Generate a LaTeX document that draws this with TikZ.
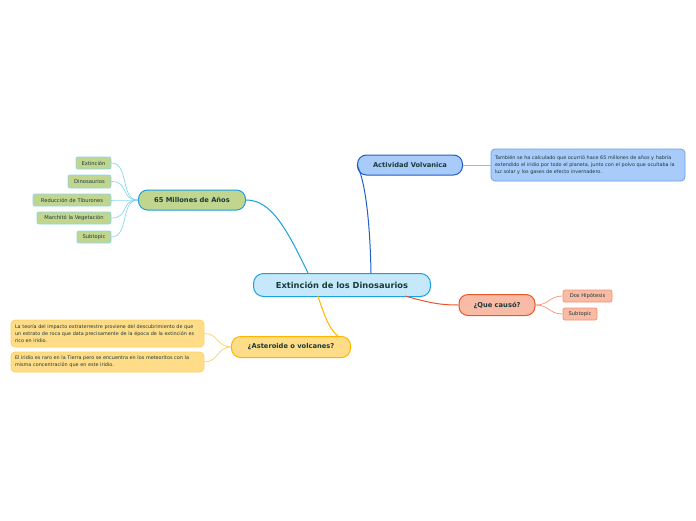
\documentclass[tikz,border=0pt]{standalone}
\usepackage{fontspec}
\setmainfont{DejaVu Sans}
\definecolor{ctrfill}{HTML}{C5E9FB}
\definecolor{ctrline}{HTML}{1AA0E0}
\definecolor{olive}{HTML}{C2D58F}
\definecolor{skyline}{HTML}{8AD6F2}
\definecolor{bluefill}{HTML}{A8CBFA}
\definecolor{blueline}{HTML}{1F5FC8}
\definecolor{bluesoft}{HTML}{6B9BE8}
\definecolor{salmon}{HTML}{F9BBA6}
\definecolor{redline}{HTML}{E8562A}
\definecolor{redsoft}{HTML}{F3936F}
\definecolor{gold}{HTML}{FFDD88}
\definecolor{goldline}{HTML}{FFB400}
\definecolor{goldsoft}{HTML}{FFD060}
\definecolor{ink}{HTML}{1A3A3A}
\tikzset{every picture/.style={line width=1pt},
  topic/.style={rounded corners=9pt, inner sep=0pt, align=center, text=ink, font=\bfseries\fontsize{6.7}{8}\selectfont},
  leaf/.style={rounded corners=2pt, inner sep=0pt, line width=0.7pt, align=center, text=ink, font=\fontsize{5.2}{6.4}\selectfont},
  memo/.style={rounded corners=4pt, inner sep=4pt, line width=0.7pt, align=left, text=ink, anchor=center, font=\fontsize{4.9}{7}\selectfont},
}
\begin{document}
\begin{tikzpicture}[x=1pt,y=1pt,yscale=-1,xscale=1]
\useasboundingbox (0,0) rectangle (696,520);

% central topic
\node (ctr) [topic, draw=ctrline, fill=ctrfill, minimum width=177, minimum height=23, rounded corners=10pt, font=\bfseries\fontsize{8.3}{9.5}\selectfont] at (342,285) {Extinción de los Dinosaurios};

% main topics
\node (mil) [topic, draw=ctrline, fill=olive, minimum width=107, minimum height=20] at (192,200) {65 Millones de Años};
\node (act) [topic, draw=blueline, fill=bluefill, minimum width=105, minimum height=20] at (410,165) {Actividad Volvanica};
\node (que) [topic, draw=redline, fill=salmon, minimum width=76, minimum height=21] at (497,305) {¿Que causó?};
\node (ast) [topic, draw=goldline, fill=gold, minimum width=119, minimum height=21] at (291,347) {¿Asteroide o volcanes?};

% subtopics
\node (ext) [leaf, draw=skyline, fill=olive, minimum width=35, minimum height=12] at (93.5,163) {Extinción};
\node (din) [leaf, draw=skyline, fill=olive, minimum width=43, minimum height=13] at (89.5,181.5) {Dinosaurios};
\node (tib) [leaf, draw=skyline, fill=olive, minimum width=78, minimum height=12] at (72,200) {Reducción de Tiburones};
\node (veg) [leaf, draw=skyline, fill=olive, minimum width=74, minimum height=12] at (74,218) {Marchitó la Vegetación};
\node (sub) [leaf, draw=skyline, fill=olive, minimum width=34, minimum height=12] at (94,237) {Subtopic};
\node (hip) [leaf, draw=redsoft, fill=salmon, minimum width=49, minimum height=12] at (587.5,296) {Dos Hipótesis};
\node (sub2) [leaf, draw=redsoft, fill=salmon, minimum width=34, minimum height=12] at (580,314) {Subtopic};

% notes
\node (volc) [memo, draw=bluesoft, fill=bluefill, minimum width=194, minimum height=32, text width=186] at (588,165) {También se ha calculado que ocurrió hace 65 millones de años y habría extendido el iridio por todo el planeta, junto con el polvo que ocultaba la luz solar y los gases de efecto invernadero.};
\node (teo) [memo, draw=goldsoft, fill=gold, minimum width=193, minimum height=27, text width=185] at (107.5,333.5) {La teoría del impacto extraterrestre proviene del descubrimiento de que un estrato de roca que data precisamente de la época de la extinción es rico en iridio.};
\node (iri) [memo, draw=goldsoft, fill=gold, minimum width=193, minimum height=20, text width=185] at (107.5,362) {El iridio es raro en la Tierra pero se encuentra en los meteoritos con la misma concentración que en este iridio.};

% branches from centre
\draw [ctrline] (308,273) .. controls (285,225) and (270,200) .. (mil.east);
\draw [blueline] (371,273) .. controls (370,220) and (365,180) .. (act.west);
\draw [redline] (405,296) .. controls (430,303) and (440,305) .. (que.west);
\draw [goldline] (318,296) .. controls (325,318) and (330,330) .. (338,336);

% subtopic links
\foreach \n in {ext,din,tib,veg,sub}
  \draw [skyline, line width=0.7pt] (mil.west) .. controls +(-18,0) and +(18,0) .. (\n.east);
\foreach \n in {hip,sub2}
  \draw [redsoft, line width=0.7pt] (que.east) .. controls +(14,0) and +(-14,0) .. (\n.west);
\foreach \n in {teo,iri}
  \draw [goldsoft, line width=0.7pt] (ast.west) .. controls +(-14,0) and +(14,0) .. (\n.east);
\draw [bluesoft!70, line width=0.7pt] (act.east) -- (volc.west);

\end{tikzpicture}
\end{document}
